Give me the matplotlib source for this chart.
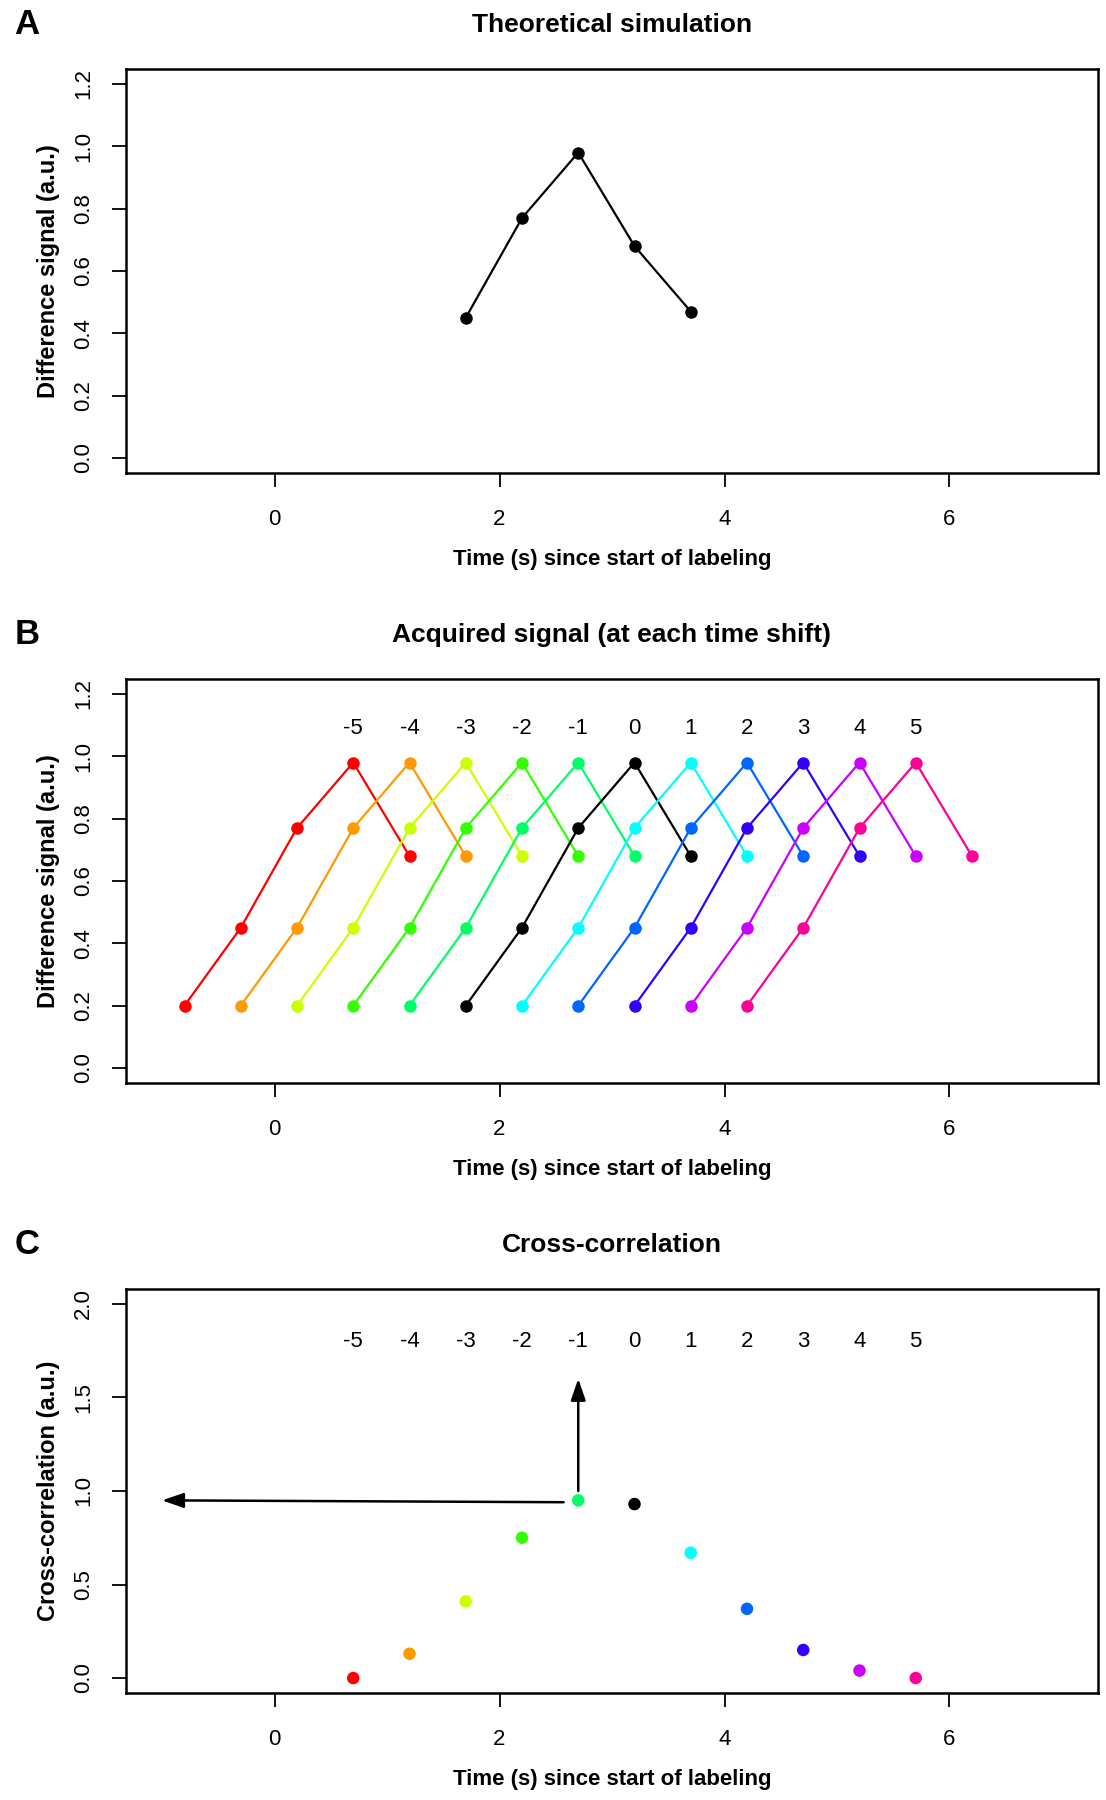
import numpy as np
import matplotlib
matplotlib.use("Agg")
import matplotlib.pyplot as plt

plt.rcParams['font.family'] = ['Liberation Sans', 'DejaVu Sans']

# ===================== DATA =====================
# panel A: theoretical difference signal
TIME_A = [1.7, 2.2, 2.7, 3.2, 3.7]
SIGNAL_A = [0.45, 0.77, 0.98, 0.68, 0.47]

# panel B: acquired signal, same sample spacing, shifted per time shift
SAMPLE_T = [1.7, 2.2, 2.7, 3.2, 3.7]          # times for shift 0
SIGNAL_B = [0.20, 0.45, 0.77, 0.98, 0.68]
SHIFTS = [-5, -4, -3, -2, -1, 0, 1, 2, 3, 4, 5]
SHIFT_OFFSET = [-2.5, -2.0, -1.5, -1.0, -0.5, 0.0, 0.5, 1.0, 1.5, 2.0, 2.5]  # seconds
SHIFT_COLORS = ['#FF0000', '#FF9900', '#CCFF00', '#33FF00', '#00FF66', '#000000',
                '#00FFFF', '#0066FF', '#3300FF', '#CC00FF', '#FF0099']

# panel C: cross-correlation per shift (plotted at peak time of each shifted curve)
PEAK_T = [0.7, 1.2, 1.7, 2.2, 2.7, 3.2, 3.7, 4.2, 4.7, 5.2, 5.7]
XCORR = [0.0, 0.13, 0.41, 0.75, 0.95, 0.93, 0.67, 0.37, 0.15, 0.04, 0.0]

# arrows in panel C (start, end)
ARROW_H = [(2.57, 0.94), (-1.0, 0.95)]
ARROW_V = [(2.7, 1.0), (2.7, 1.6)]
LABEL_Y_B = 1.09
LABEL_Y_C = 1.80
# =================================================

W, H = 1106, 1800
fig = plt.figure(figsize=(W / 100, H / 100), dpi=100)

AX_L, AX_R = 126, 1098
panels = [(69, 473), (679, 1083), (1289, 1693)]


def make_ax(top, bottom, ylim, yticks, ylabel, title, letter):
    ax = fig.add_axes([AX_L / W, 1 - bottom / H, (AX_R - AX_L) / W, (bottom - top) / H])
    xr = 7 - (-1)
    ax.set_xlim(-1 - 0.04 * xr, 7 + 0.04 * xr)
    yr = ylim[1] - ylim[0]
    ax.set_ylim(ylim[0] - 0.04 * yr, ylim[1] + 0.04 * yr)
    ax.set_xticks([0, 2, 4, 6])
    ax.set_yticks(yticks)
    ax.set_yticklabels([f"{v:.1f}" for v in yticks])
    ax.tick_params(axis='x', length=10, width=1.3, pad=16, labelsize=16)
    ax.tick_params(axis='y', length=10, width=1.3, pad=13, labelsize=16)
    for lab in ax.get_yticklabels():
        lab.set_rotation(90)
        lab.set_va('center')
    for sp in ax.spines.values():
        sp.set_linewidth(1.8)
    ax.set_xlabel("Time (s) since start of labeling", fontsize=16, fontweight='bold')
    ax.xaxis.set_label_coords(0.5, -(559 - 473) / 404)
    ax.xaxis.label.set_va('center')
    ax.set_ylabel(ylabel, fontsize=17, fontweight='bold')
    ax.yaxis.set_label_coords(-(126 - 49) / 972, 0.5)
    ax.yaxis.label.set_va('center')
    fig.text(612 / W, 1 - (top - 44) / H, title, fontsize=19, fontweight='bold',
             ha='center', va='center')
    fig.text(27 / W, 1 - (top - 45) / H, letter, fontsize=25, fontweight='bold',
             ha='center', va='center')
    return ax


# ---- A ----
axA = make_ax(*panels[0], (0, 1.2), [0.0, 0.2, 0.4, 0.6, 0.8, 1.0, 1.2],
              "Difference signal (a.u.)", "Theoretical simulation", "A")
axA.plot(TIME_A, SIGNAL_A, color='black', lw=1.6, marker='o', ms=9, mew=0)

# ---- B ----
axB = make_ax(*panels[1], (0, 1.2), [0.0, 0.2, 0.4, 0.6, 0.8, 1.0, 1.2],
              "Difference signal (a.u.)", "Acquired signal (at each time shift)", "B")
for s, off, c in zip(SHIFTS, SHIFT_OFFSET, SHIFT_COLORS):
    t = np.array(SAMPLE_T) + off
    axB.plot(t, SIGNAL_B, color=c, lw=1.6, marker='o', ms=9, mew=0)
    axB.text(t[3], LABEL_Y_B, str(s), ha='center', va='center', fontsize=16)

# ---- C ----
axC = make_ax(*panels[2], (0, 2.0), [0.0, 0.5, 1.0, 1.5, 2.0],
              "Cross-correlation (a.u.)", "Cross-correlation", "C")
axC.scatter(PEAK_T, XCORR, c=SHIFT_COLORS, s=81, linewidths=0, zorder=3)
for s, t in zip(SHIFTS, PEAK_T):
    axC.text(t, LABEL_Y_C, str(s), ha='center', va='center', fontsize=16)
for (x0, y0), (x1, y1) in [ARROW_H, ARROW_V]:
    axC.annotate("", xy=(x1, y1), xytext=(x0, y0),
                 arrowprops=dict(arrowstyle='-|>,head_length=1.3,head_width=0.45',
                                 mutation_scale=10, color='black', lw=1.8,
                                 shrinkA=0, shrinkB=0))

fig.savefig("out.png", dpi=100)
